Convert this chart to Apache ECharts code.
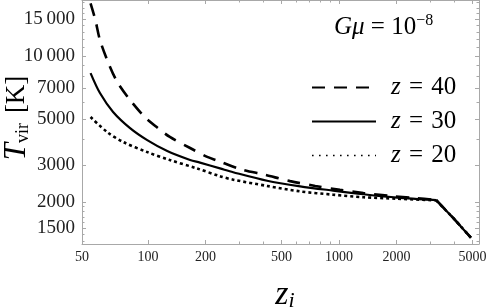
<!DOCTYPE html>
<html><head><meta charset="utf-8">
<script src="https://cdn.jsdelivr.net/npm/echarts@6/dist/echarts.min.js"></script>
<style>html,body{margin:0;padding:0;background:#fff}#c{width:491px;height:308px}</style>
</head><body><div id="c"></div>
<script>
// ---- data ----
const zi40 = [50, 53, 56, 62, 69, 80.5, 96, 111, 130, 166, 204, 230, 303, 410, 554, 750, 1010, 1340, 1850, 2500, 3220, 3955, 4900];
const T40  = [17870, 14870, 11930, 9260, 7510, 6160, 5110, 4570, 4100, 3630, 3290, 3160, 2880, 2700, 2520, 2390, 2290, 2210, 2140, 2090, 2050, 1680, 1350];
const zi30 = [50, 56, 65.6, 80.5, 99, 126, 166, 187, 238, 279, 420, 625, 930, 1340, 2010, 3220, 3955, 4900];
const T30  = [8290, 6650, 5400, 4520, 3960, 3510, 3180, 3090, 2900, 2780, 2530, 2380, 2270, 2180, 2100, 2045, 1680, 1350];
const zi20 = [50, 61, 74, 99, 130, 180, 238, 279, 420, 625, 930, 1340, 2010, 3220, 3955, 4900];
const T20  = [5110, 4330, 3880, 3470, 3180, 2900, 2660, 2560, 2390, 2250, 2170, 2110, 2075, 2040, 1680, 1350];
const ziKink = 3220; // sharp turnover point shared by all curves

const xLabels = [50, 100, 200, 500, 1000, 2000, 5000];
const xMajor = [100, 200, 500, 1000, 2000, 5000];
const xMinor = [300, 400, 600, 700, 800, 900, 3000, 4000];
const yLabels = [1500, 2000, 3000, 5000, 7000, 10000, 15000];
const yMinor = [1300, 1400, 1600, 1700, 1800, 1900, 4000, 6000, 8000, 9000, 11000, 12000, 13000, 14000, 16000, 17000, 18000];

const xMin = 45.1, xMax = 5400, yMin = 1260, yMax = 18550;
// ---------------------------------------
const L = Math.log10;
const pts = (xs, ys) => xs.map((x, i) => [L(x), L(ys[i])]);
const before = (xs, ys) => pts(xs, ys).filter((p, i) => xs[i] <= ziKink);
const after = (xs, ys) => pts(xs, ys).filter((p, i) => xs[i] >= ziKink);
const FONT = 'Liberation Serif';
const frame = '#a8a8a8';

function fmtY(n) {
  if (n >= 10000) { const s = String(n); return s.slice(0, s.length - 3) + '\u2009' + s.slice(-3); }
  return String(n);
}

function xAxisDef(pos, ticks, len, line, labels) {
  return {
    type: 'value', position: pos, min: L(xMin), max: L(xMax),
    axisLine: { show: line, onZero: false, lineStyle: { color: frame, width: 1 } },
    axisTick: { show: true, inside: true, length: len, customValues: ticks.map(L), lineStyle: { color: frame, width: 1 } },
    axisLabel: labels ? {
      show: true, customValues: xLabels.map(v => v === 50 ? L(xMin) : L(v)),
      formatter: v => (Math.abs(v - L(xMin)) < 1e-9 ? '50' : String(Math.round(Math.pow(10, v)))),
      fontFamily: FONT, fontSize: 14, color: '#222', margin: 6
    } : { show: false },
    splitLine: { show: false }
  };
}
function yAxisDef(pos, ticks, len, line, labels) {
  return {
    type: 'value', position: pos, min: L(yMin), max: L(yMax),
    axisLine: { show: line, onZero: false, lineStyle: { color: frame, width: 1 } },
    axisTick: { show: true, inside: true, length: len, customValues: ticks.map(L), lineStyle: { color: frame, width: 1 } },
    axisLabel: labels ? {
      show: true, customValues: yLabels.map(L),
      formatter: v => fmtY(Math.round(Math.pow(10, v) / 100) * 100),
      fontFamily: FONT, fontSize: 19, color: '#222', margin: 7
    } : { show: false },
    splitLine: { show: false }
  };
}

const styles = {
  'z = 40': { color: '#000', width: 2.6, type: [13, 9] },
  'z = 30': { color: '#000', width: 2.2, type: 'solid' },
  'z = 20': { color: '#000', width: 2.6, type: [3, 3] }
};
function curve(name, xs, ys) {
  return [
    { name, type: 'line', data: before(xs, ys), showSymbol: false, symbol: 'none', smooth: 0.3,
      itemStyle: { color: '#000' }, lineStyle: styles[name] },
    { name, type: 'line', data: after(xs, ys), showSymbol: false, symbol: 'none', smooth: false,
      itemStyle: { color: '#000' }, lineStyle: styles[name] }
  ];
}

const chart = echarts.init(document.getElementById('c'), null, { renderer: 'canvas' });
chart.setOption({
  animation: false,
  backgroundColor: '#fff',
  grid: { left: 82, right: 12, top: 0, bottom: 64 },
  xAxis: [
    xAxisDef('bottom', xMajor, 4, true, true),
    xAxisDef('bottom', xMinor, 2.5, false, false),
    xAxisDef('top', xMajor, 4, true, false),
    xAxisDef('top', xMinor, 2.5, false, false)
  ],
  yAxis: [
    yAxisDef('left', yLabels, 4, true, true),
    yAxisDef('left', yMinor, 2.5, false, false),
    yAxisDef('right', yLabels, 4, true, false),
    yAxisDef('right', yMinor, 2.5, false, false)
  ],
  legend: {
    left: 306, top: 70, orient: 'vertical', itemWidth: 64, itemHeight: 14, itemGap: 9,
    itemStyle: { opacity: 0 },
    textStyle: { fontFamily: FONT, fontSize: 25, color: '#000', padding: [0, 0, 0, 10],
      rich: {
        i: { fontFamily: FONT, fontSize: 25, fontStyle: 'italic', color: '#000' },
        e: { fontFamily: FONT, fontSize: 25, color: '#000', padding: [0, 2, 0, 2] }
      } },
    formatter: n => '{i|z} {e|=} ' + n.split('= ')[1],
    data: [
      { name: 'z = 40' },
      { name: 'z = 30' },
      { name: 'z = 20', lineStyle: { width: 1.6, type: [1.6, 5.4] } }
    ]
  },
  series: [].concat(
    curve('z = 40', zi40, T40),
    curve('z = 30', zi30, T30),
    curve('z = 20', zi20, T20)
  ),
  graphic: [
    { type: 'text', left: 334, top: 13, style: {
      text: '{i|Gμ} = 10{s|−8}', fontFamily: FONT, fontSize: 25, fill: '#000',
      rich: { i: { fontFamily: FONT, fontSize: 25, fontStyle: 'italic' }, s: { fontFamily: FONT, fontSize: 16, padding: [0, 0, 12, 0] } } } },
    { type: 'text', x: 17, y: 118, rotation: Math.PI / 2, style: {
      text: '{t|T}{v|vir}{k|[K]}', fill: '#000', align: 'center', verticalAlign: 'middle',
      rich: { t: { fontFamily: FONT, fontSize: 31, fontStyle: 'italic' },
              v: { fontFamily: FONT, fontSize: 18, padding: [12, 10, 0, 0] },
              k: { fontFamily: FONT, fontSize: 27 } } } },
    { type: 'text', x: 285, y: 295, style: {
      text: '{z|z}{i|i}', fill: '#000', align: 'center', verticalAlign: 'middle',
      rich: { z: { fontFamily: FONT, fontSize: 34, fontStyle: 'italic' }, i: { fontFamily: FONT, fontSize: 22, fontStyle: 'italic', padding: [12, 0, 0, 0] } } } }
  ]
});
</script>
</body></html>
